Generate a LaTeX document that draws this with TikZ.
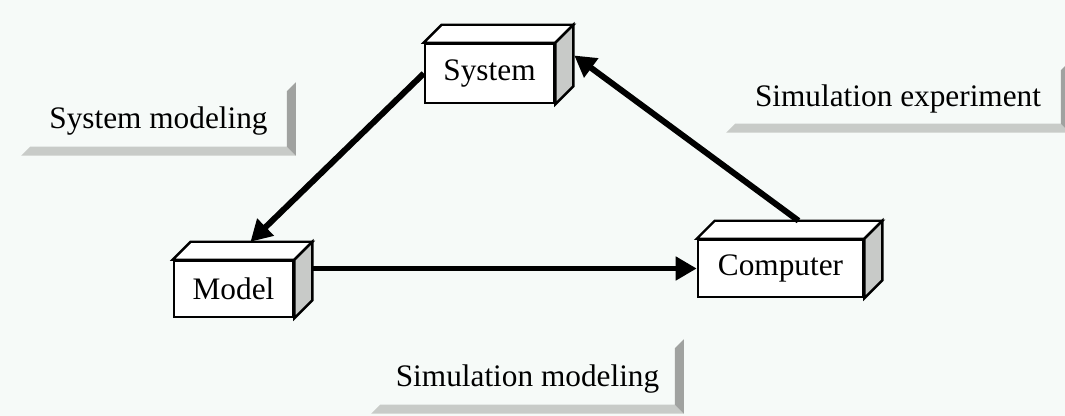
\documentclass[tikz,border=0pt]{standalone}
\usepackage{fontspec}
\setmainfont{Liberation Serif}
\usetikzlibrary{arrows.meta}
\definecolor{paper}{RGB}{246,250,248}
\definecolor{sideface}{RGB}{200,202,200}
\definecolor{lowshade}{RGB}{200,203,200}
\definecolor{edgeshade}{RGB}{160,162,160}

\begin{document}
\begin{tikzpicture}[
  x=0.01cm, y=-0.01cm,
  every node/.style = {font=\fontsize{8.9pt}{10pt}\selectfont, inner sep=0pt},
  block/.style = {draw, fill=white, line width=0.7pt},
  tag/.style = {minimum width=#1, text height=0.2cm, text depth=0pt},
  link/.style = {line width=1.7pt, -{Triangle[length=6pt, width=6.5pt]}}
]
  \fill[paper] (0,0) rectangle (1065,416);
  \useasboundingbox (0,0) rectangle (1065,416);

  \node[block, minimum width=1.29cm, minimum height=0.59cm] (system) at (489.5,73.5) {System};
  \node[block, minimum width=1.19cm, minimum height=0.56cm] (model) at (233.5,289) {Model};
  \node[block, minimum width=1.65cm, minimum height=0.57cm] (computer) at (780.5,268.5) {Computer};

  \node[tag=2.73cm, minimum height=0.72cm] (sysmod) at (158.5,119) {System modeling};
  \node[tag=3.42cm, minimum height=0.70cm] (simexp) at (898,97) {Simulation experiment};
  \node[tag=3.11cm, minimum height=0.73cm] (simmod) at (527.5,376.5) {Simulation modeling};

  \foreach \n in {system, model, computer} {
    \filldraw[fill=white, line width=0.7pt] (\n.north west) -- ++(18,-18) -- ([shift={(18,-18)}]\n.north east) -- (\n.north east) -- cycle;
    \filldraw[fill=sideface, line width=0.7pt] (\n.north east) -- ++(18,-18) -- ([shift={(18,-18)}]\n.south east) -- (\n.south east) -- cycle;
  }

  \foreach \n in {sysmod, simexp, simmod} {
    \fill[lowshade] (\n.south west) -- (\n.south east) -- ([shift={(-9,-9)}]\n.south east) -- ([shift={(9,-9)}]\n.south west) -- cycle;
    \fill[edgeshade] (\n.south east) -- (\n.north east) -- ([shift={(-9,9)}]\n.north east) -- ([shift={(-9,-9)}]\n.south east) -- cycle;
  }

  \coordinate (mc) at (model.east |- computer.west);
  \draw[link] (system.west) -- ([shift={(17,-18)}]model.north);
  \draw[link] ([shift={(18,-18)}]computer.north) -- ([shift={(19,-18)}]system.east);
  \draw[link] ([shift={(17,0)}]mc) -- (computer.west);
\end{tikzpicture}
\end{document}
